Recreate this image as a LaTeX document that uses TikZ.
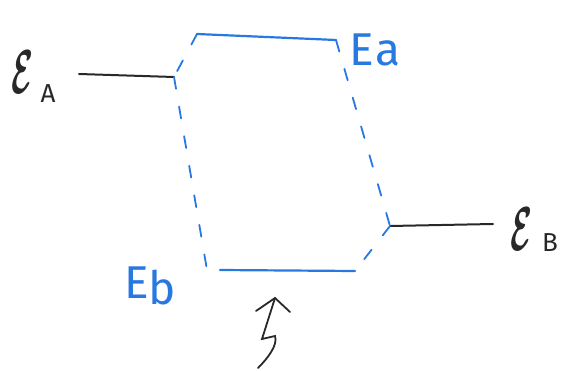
\documentclass[tikz,border=0pt]{standalone}
\usepackage{fontspec}
\usepackage{graphicx}
\setsansfont{Fira Sans}
\usetikzlibrary{arrows.meta}
\definecolor{pen}{RGB}{40,120,225}
\definecolor{ink}{RGB}{40,40,40}
\newcommand{\scriptE}{\scalebox{3.2}[6.2]{\boldmath$\mathcal{E}$}}
\tikzset{
  level/.style={pen, line width=2.2pt, line cap=round},
  link/.style={pen, line width=1.8pt, line cap=round, dash pattern=on 12pt off 18pt},
  orbital/.style={ink, line width=2pt, line cap=round},
  lab/.style={inner sep=0pt},
  sub/.style={inner sep=0pt, ink, font=\sffamily\fontsize{26}{26}\selectfont},
  elab/.style={inner sep=0pt, pen, font=\sffamily\fontsize{46}{46}\selectfont},
}
\begin{document}
\begin{tikzpicture}[x=1pt,y=-1pt]
\useasboundingbox (0,0) rectangle (570,371);
% coordinates
\coordinate (aL) at (79,74);
\coordinate (aR) at (174,77);
\coordinate (bL) at (390,226);
\coordinate (bR) at (493,224);
\coordinate (tL) at (197,34);
\coordinate (tR) at (336,40);
\coordinate (uL) at (220,270);
\coordinate (uR) at (355,271);
\coordinate (lc) at (207,270);
% orbitals
\draw[orbital] (aL) -- (aR);
\draw[orbital] (bL) -- (bR);
% levels
\draw[level] (tL) -- (tR);
\draw[level] (uL) -- (uR);
% correlation lines
\draw[link] (tL) -- (aR);
\draw[link] (aR) -- (lc);
\draw[link] (tR) -- (bL);
\draw[link] (bL) -- (uR);
% labels
\node[lab, ink] (eA) at (23,72) {\scriptE};
\node[sub] (eAs) at (48,94) {A};
\node[lab, ink] (eB) at (522,229) {\scriptE};
\node[sub] (eBs) at (550,243) {B};
\node[elab] (Ea) at (375,50) {E\kern1pt a};
\node[elab] (Eb) at (150,286) {E\raisebox{-6pt}{b}};
% photon
\coordinate (s0) at (258,368);
\coordinate (tip) at (275,298);
\draw[orbital, line width=1.8pt] (s0) .. controls (268,358) and (278,345) .. (275,336)
  -- (262,339) -- (tip);
\draw[orbital, line width=1.8pt] (256,311) -- (tip) -- (290,312);
\end{tikzpicture}
\end{document}
